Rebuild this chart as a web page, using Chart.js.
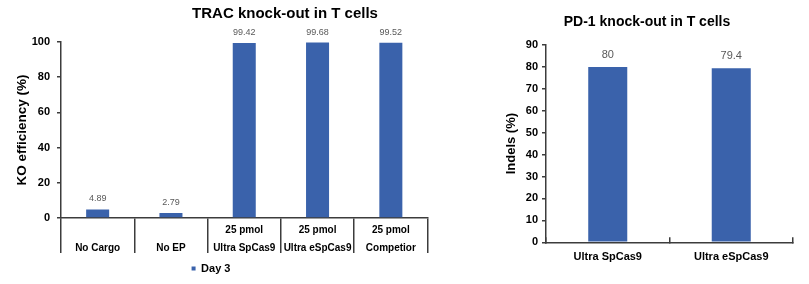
<!DOCTYPE html>
<html><head><meta charset="utf-8">
<script src="https://cdn.jsdelivr.net/npm/chart.js@4.4.1/dist/chart.umd.min.js"></script>
<style>
html,body{margin:0;padding:0;background:#fff;overflow:hidden;width:809px;height:284px;}
canvas{position:absolute;top:0;}
#c1{left:0;}
#c2{left:460px;}
</style></head><body>
<canvas id="c1" width="570" height="284"></canvas>
<canvas id="c2" width="374" height="284"></canvas>
<script>
// ---- data ----
const tracCategories = [['', 'No Cargo'], ['', 'No EP'], ['25 pmol', 'Ultra SpCas9'], ['25 pmol', 'Ultra eSpCas9'], ['25 pmol', 'Competior']];
const tracDay3 = [4.89, 2.79, 99.42, 99.68, 99.52];
const tracYTicks = [0, 20, 40, 60, 80, 100];

const pd1Categories = ['Ultra SpCas9', 'Ultra eSpCas9'];
const pd1Indels = [80, 79.4];
const pd1YTicks = [0, 10, 20, 30, 40, 50, 60, 70, 80, 90];

// ---- styles ----
const BLUE = '#3A62AB';
const AXIS = '#3c3c3c';
Chart.defaults.font.family = '"Liberation Sans", Arial, sans-serif';

const valueLabels = {
  id: 'valueLabels',
  afterDatasetsDraw(chart, args, opts) {
    const ctx = chart.ctx;
    chart.data.datasets.forEach((ds, i) => {
      const meta = chart.getDatasetMeta(i);
      meta.data.forEach((bar, j) => {
        ctx.save();
        ctx.font = opts.font;
        ctx.fillStyle = opts.color;
        ctx.textAlign = 'center';
        ctx.textBaseline = 'middle';
        ctx.fillText(String(ds.data[j]), bar.x, bar.y - opts.offset);
        ctx.restore();
      });
    });
  }
};

new Chart(document.getElementById('c1'), {
  type: 'bar',
  data: {
    labels: tracCategories,
    datasets: [{
      label: 'Day 3', data: tracDay3, backgroundColor: BLUE, borderWidth: 0,
      categoryPercentage: 1, barPercentage: 0.314, yAxisID: 'y', xAxisID: 'x'
    }]
  },
  options: {
    responsive: false, animation: false, devicePixelRatio: 1, events: [],
    layout: { padding: 0 },
    plugins: {
      title: { display: true, text: 'TRAC knock-out in T cells', color: '#000',
        font: { size: 15, weight: 'bold', lineHeight: 1.2 }, padding: { top: 5, bottom: 19 } },
      legend: { display: true, position: 'bottom', fullSize: false, stack: 'L', stackWeight: 300,
        labels: { boxWidth: 4, boxHeight: 4, padding: 4, color: '#000', font: { size: 11, weight: 'bold' } } },
      tooltip: { enabled: false },
      valueLabels: { font: '9px "Liberation Sans", Arial, sans-serif', color: '#595959', offset: 10.5 }
    },
    scales: {
      x: {
        type: 'category',
        grid: { display: true, offset: true, drawOnChartArea: false, drawTicks: true, tickLength: 35, color: AXIS, lineWidth: 1.5 },
        border: { display: true, color: AXIS, width: 1.5 },
        ticks: { color: '#000', font: { size: 10, weight: 'bold', lineHeight: 1.8 }, padding: -32, maxRotation: 0, minRotation: 0, autoSkip: false },
        afterFit(s) { s.height = 41; }
      },
      y: {
        min: 0, max: 100,
        afterBuildTicks(s) { s.ticks = tracYTicks.map(v => ({ value: v })); },
        ticks: { color: '#000', font: { size: 11, weight: 'bold' }, padding: 7 },
        grid: { display: true, drawOnChartArea: false, drawTicks: true, tickLength: 4, color: AXIS, lineWidth: 1.5 },
        border: { display: true, color: AXIS, width: 1.5 },
        title: { display: true, text: 'KO efficiency (%)', color: '#000', font: { size: 13.5, weight: 'bold', lineHeight: 1.2 }, padding: { top: 14, bottom: 0 } },
        afterFit(s) { s.width = 61; }
      },
      pad: {
        type: 'linear', axis: 'y', position: 'right', display: true,
        grid: { display: false }, border: { display: false }, ticks: { display: false },
        afterFit(s) { s.width = 142.5; }
      },
      legendPad: {
        type: 'linear', axis: 'x', position: 'bottom', display: true, stack: 'L', stackWeight: 66.5, weight: 2000,
        grid: { display: false }, border: { display: false }, ticks: { display: false },
        afterFit(s) { s.height = 0; }
      }
    }
  },
  plugins: [valueLabels]
});

new Chart(document.getElementById('c2'), {
  type: 'bar',
  data: {
    labels: pd1Categories,
    datasets: [{
      label: 'Indels', data: pd1Indels, backgroundColor: BLUE, borderWidth: 0,
      categoryPercentage: 1, barPercentage: 0.316, yAxisID: 'y'
    }]
  },
  options: {
    responsive: false, animation: false, devicePixelRatio: 1, events: [],
    layout: { padding: 0 },
    plugins: {
      title: { display: true, text: 'PD-1 knock-out in T cells', color: '#000',
        font: { size: 14, weight: 'bold', lineHeight: 1.2 }, padding: { top: 14, bottom: 14.2 } },
      legend: { display: false },
      tooltip: { enabled: false },
      valueLabels: { font: '11px "Liberation Sans", Arial, sans-serif', color: '#595959', offset: 12 }
    },
    scales: {
      x: {
        type: 'category',
        grid: { display: true, offset: true, drawOnChartArea: false, drawTicks: true, tickLength: -5, color: AXIS, lineWidth: 1.5 },
        border: { display: true, color: AXIS, width: 1.5 },
        ticks: { color: '#000', font: { size: 11, weight: 'bold', lineHeight: 1.2 }, padding: 13, maxRotation: 0, minRotation: 0, autoSkip: false },
        afterFit(s) { s.height = 41.7; }
      },
      y: {
        min: 0, max: 90,
        afterBuildTicks(s) { s.ticks = pd1YTicks.map(v => ({ value: v })); },
        ticks: { color: '#000', font: { size: 11, weight: 'bold' }, padding: 4 },
        grid: { display: true, drawOnChartArea: false, drawTicks: true, tickLength: 4, color: AXIS, lineWidth: 1.5 },
        border: { display: true, color: AXIS, width: 1.5 },
        title: { display: true, text: 'Indels (%)', color: '#000', font: { size: 13, weight: 'bold', lineHeight: 1.2 }, padding: { top: 44, bottom: 0 } },
        afterFit(s) { s.width = 86; }
      },
      pad: {
        type: 'linear', axis: 'y', position: 'right', display: true,
        grid: { display: false }, border: { display: false }, ticks: { display: false },
        afterFit(s) { s.width = 41; }
      }
    }
  },
  plugins: [valueLabels]
});
</script>
</body></html>
